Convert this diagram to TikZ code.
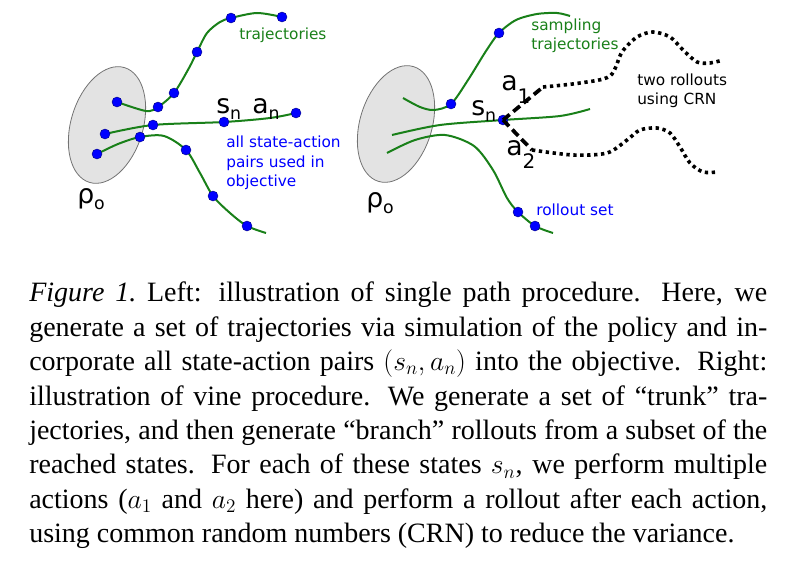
\documentclass[tikz,border=0pt]{standalone}
\usepackage{amsmath}
\usepackage{fontspec}
\setmainfont{Liberation Serif}
\newfontfamily\figfont{DejaVu Sans}
\usepackage{tikz}

\definecolor{trajgreen}{RGB}{25,128,25}
\definecolor{dotblue}{RGB}{0,0,255}

\newcommand{\symb}[2]{#1\raisebox{-0.45ex}{\fontsize{13}{13}\selectfont #2}}
\newcommand{\symbd}[2]{#1\raisebox{-0.9ex}{\fontsize{15}{15}\selectfont #2}}

\tikzset{
  startset/.style={fill=black!11, draw=black!55, line width=0.6pt},
  traj/.style={draw=trajgreen, line width=1.5pt},
  sdot/.style={circle, fill=dotblue, draw=black!50!blue, line width=0.3pt, inner sep=0pt, minimum size=7.5pt},
  branch/.style={line width=2.8pt, dash pattern=on 6.5pt off 3.5pt},
  rollout/.style={line width=2.7pt, dash pattern=on 2.5pt off 2.7pt},
  symlbl/.style={font=\figfont\fontsize{20}{22}\selectfont, inner sep=0pt, anchor=base west},
  note/.style={font=\figfont\fontsize{11.5}{14.5}\selectfont, inner sep=0pt, align=left, anchor=west},
  caption/.style={font=\fontsize{21}{25.8}\selectfont, inner sep=0pt, text width=553.5pt, align=justify, anchor=north west},
}

\begin{document}
\begin{tikzpicture}[x=0.75pt,y=0.75pt,yscale=-1,xscale=1]
\useasboundingbox (0,0) rectangle (788,564);

% start state regions
\draw[startset, rotate around={-73:(107,125)}] (107,125) ellipse [x radius=60, y radius=36];
\draw[startset, rotate around={-73:(396,124)}] (396,124) ellipse [x radius=60, y radius=36];

% left: single path trajectories
\draw[traj] plot[smooth] coordinates {(117,102) (146,111) (158,107) (174,93) (189,68) (197,52) (207,33) (220,22) (231,18) (257,13) (282,17)};
\draw[traj] plot[smooth] coordinates {(105,134) (153,125) (224,122) (270,118) (296,113)};
\draw[traj] plot[smooth] coordinates {(97,154) (118,144) (140,137) (164,136) (186,150) (200,173) (213,196) (230,213) (247,226) (266,233)};

\foreach \n/\x/\y in {la/117/102, lb/158/107, lc/174/93, ld/197/52, le/231/18, lf/282/17,
                      lg/105/134, lh/153/125, lsn/224/122, li/296/113,
                      lj/97/154, lk/140/137, ll/186/150, lm/213/196, lo/247/226}
  \node[sdot] (\n) at (\x,\y) {};

% right: vine trunk trajectories
\draw[traj] plot[smooth] coordinates {(403,98) (420,107) (434,110) (451,104) (468,80) (486,51) (499,33) (516,20) (537,14) (557,13) (570,16)};
\draw[traj] plot[smooth] coordinates {(392,135) (440,125) (503,120) (560,116) (590,109)};
\draw[traj] plot[smooth] coordinates {(387,153) (415,140) (445,135) (474,146) (493,170) (507,198) (518,212) (535,226) (553,233)};

\foreach \n/\x/\y in {ra/451/104, rb/499/33, rsn/503/120, rc/518/212, rd/535/226}
  \node[sdot] (\n) at (\x,\y) {};

% branch actions and rollouts
\coordinate (aone) at (543,87);
\coordinate (atwo) at (532,150);
\draw[branch] (rsn.center) -- (aone);
\draw[branch] (rsn.center) -- (atwo);
\draw[rollout] plot[smooth] coordinates {(543,87) (580,83) (610,76) (622,52) (637,37) (653,32) (670,37) (683,50) (697,62) (710,63) (723,60)};
\draw[rollout] plot[smooth] coordinates {(532,150) (573,155) (607,153) (627,140) (640,130) (657,128) (670,133) (680,147) (690,163) (703,172) (717,172)};

% Text Node
\node[symlbl] (lsnlbl) at (216,113) {\symb{s}{n}};
\node[symlbl] (lanlbl) at (252,113) {\symb{a}{n}};
\node[symlbl] (lrho) at (77,203) {\symb{ρ}{o}};
\node[symlbl] (rsnlbl) at (471,115) {\symb{s}{n}};
\node[symlbl] (aonelbl) at (501,90) {\symbd{a}{1}};
\node[symlbl] (atwolbl) at (506,155) {\symbd{a}{2}};
\node[symlbl] (rrho) at (366,207) {\symb{ρ}{o}};
% Text Node
\node[note, text=trajgreen] (ltrajtxt) at (239,35) {trajectories};
\node[note, text=dotblue] (pairstxt) at (226,163) {all state-action\\pairs used in\\objective};
\node[note, text=trajgreen] (rtrajtxt) at (531,36) {sampling\\trajectories};
\node[note] (crntxt) at (637,91) {two rollouts\\using CRN};
\node[note, text=dotblue] (rsettxt) at (536,210) {rollout set};

% caption
\node[caption] (cap) at (29,282) {\textit{Figure 1.}\ Left:  illustration of single path procedure.  Here, we\linebreak
generate a set of trajectories via simulation of the policy and in-\linebreak
corporate all state-action pairs $(s_n,a_n)$ into the objective. Right:\linebreak
illustration of vine procedure.  We generate a set of “trunk” tra-\linebreak
jectories, and then generate “branch” rollouts from a subset of the\linebreak
reached states.  For each of these states $s_n$, we perform multiple\linebreak
actions ($a_1$ and $a_2$ here) and perform a rollout after each action,\linebreak
using common random numbers (CRN) to reduce the variance.};
\end{tikzpicture}
\end{document}
